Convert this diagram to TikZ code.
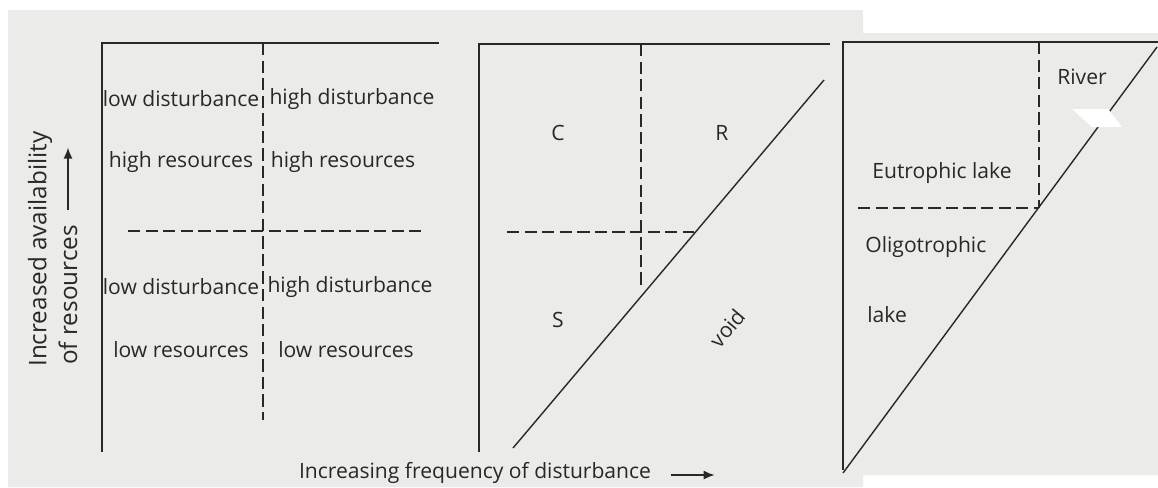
\documentclass[tikz,border=0pt]{standalone}
\usepackage{fontspec}
\setmainfont{Open Sans}
\usepackage{xcolor}
\usepackage{tikz}
\usetikzlibrary{calc,arrows.meta,positioning}
\definecolor{paper}{RGB}{235,235,233}
\definecolor{ink}{RGB}{40,40,40}

\begin{document}
\begin{tikzpicture}[x=0.02cm,y=-0.02cm,
    frame/.style={draw=ink,line width=0.8pt},
    split/.style={draw=ink,line width=0.7pt,dash pattern=on 7pt off 3pt},
    lbl/.style={font=\fontsize{12}{14}\selectfont,text=ink,inner sep=0pt},
    axlbl/.style={font=\fontsize{13.8}{16}\selectfont,text=ink,inner sep=0pt},
    axisarrow/.style={draw=ink,line width=0.8pt,-{Latex[length=2.2mm,width=1.8mm]}}]
   \useasboundingbox (0,0) rectangle (1158,487);
   \fill[paper] (8,10) -- (863,10) -- (863,33) -- (1158,33) -- (1158,475) -- (863,475) -- (863,487) -- (8,487) -- cycle;
   % panel 1: four quadrants
   \draw[frame] (102,452) -- (102,43) -- (439,43);
   \draw[split] (263,43) -- (263,420);
   \draw[split] (128,231) -- (423,231);
   \node[lbl] (ldhi) at (181,99) {low disturbance};
   \node[lbl] (hdhi) at (352,99) {high disturbance};
   \node[lbl] (hrlo) at (181,162) {high resources};
   \node[lbl] (hrhi) at (343,162) {high resources};
   \node[lbl] (ldlo) at (181,287) {low disturbance};
   \node[lbl] (hdlo) at (350,287) {high disturbance};
   \node[lbl] (lrlo) at (181,350) {low resources};
   \node[lbl] (lrhi) at (346,350) {low resources};
   \node[axlbl,rotate=90,anchor=west] (yavail) at (40,367) {Increased availability};
   \node[axlbl,rotate=90,anchor=west] (yres) at (68,365) {of resources};
   \draw[axisarrow] ([yshift=8.5pt]yres.east) -- ([yshift=44pt]yres.east);
   % panel 2: C, S, R
   \draw[frame] (479,452) -- (479,44) -- (830,44);
   \draw[split] (641,44) -- (641,285);
   \draw[split] (507,232) -- (694,232);
   \draw[frame] (513,448) -- (824,80);
   \node[lbl] (comp) at (558,133) {C};
   \node[lbl] (rud) at (722,133) {R};
   \node[lbl] (stress) at (558,320) {S};
   \node[lbl,rotate=50] (void) at (727,328) {void};
   \node[lbl] (xfreq) at (475,473) {Increasing frequency of disturbance};
   \draw[axisarrow] ([xshift=11pt,yshift=2pt]xfreq.base east) -- ([xshift=36pt,yshift=2pt]xfreq.base east);
   % panel 3: water bodies
   \draw[frame] (843,470) -- (843,42) -- (1158,42);
   \draw[split] (1039,42) -- (1039,208);
   \draw[split] (858,208) -- (1039,208);
   \draw[frame] (843,473) -- (1157,47);
   \fill[white] (1072,109) -- (1108,109) -- (1122,127) -- (1092,127) -- cycle;
   \node[lbl] (river) at (1082,77) {River};
   \node[lbl] (eutro) at (942,173) {Eutrophic lake};
   \node[lbl,anchor=west] (oligo) at (865,247) {Oligotrophic};
   \node[lbl,anchor=west] (olake) at (867,315) {lake};
\end{tikzpicture}
\end{document}
